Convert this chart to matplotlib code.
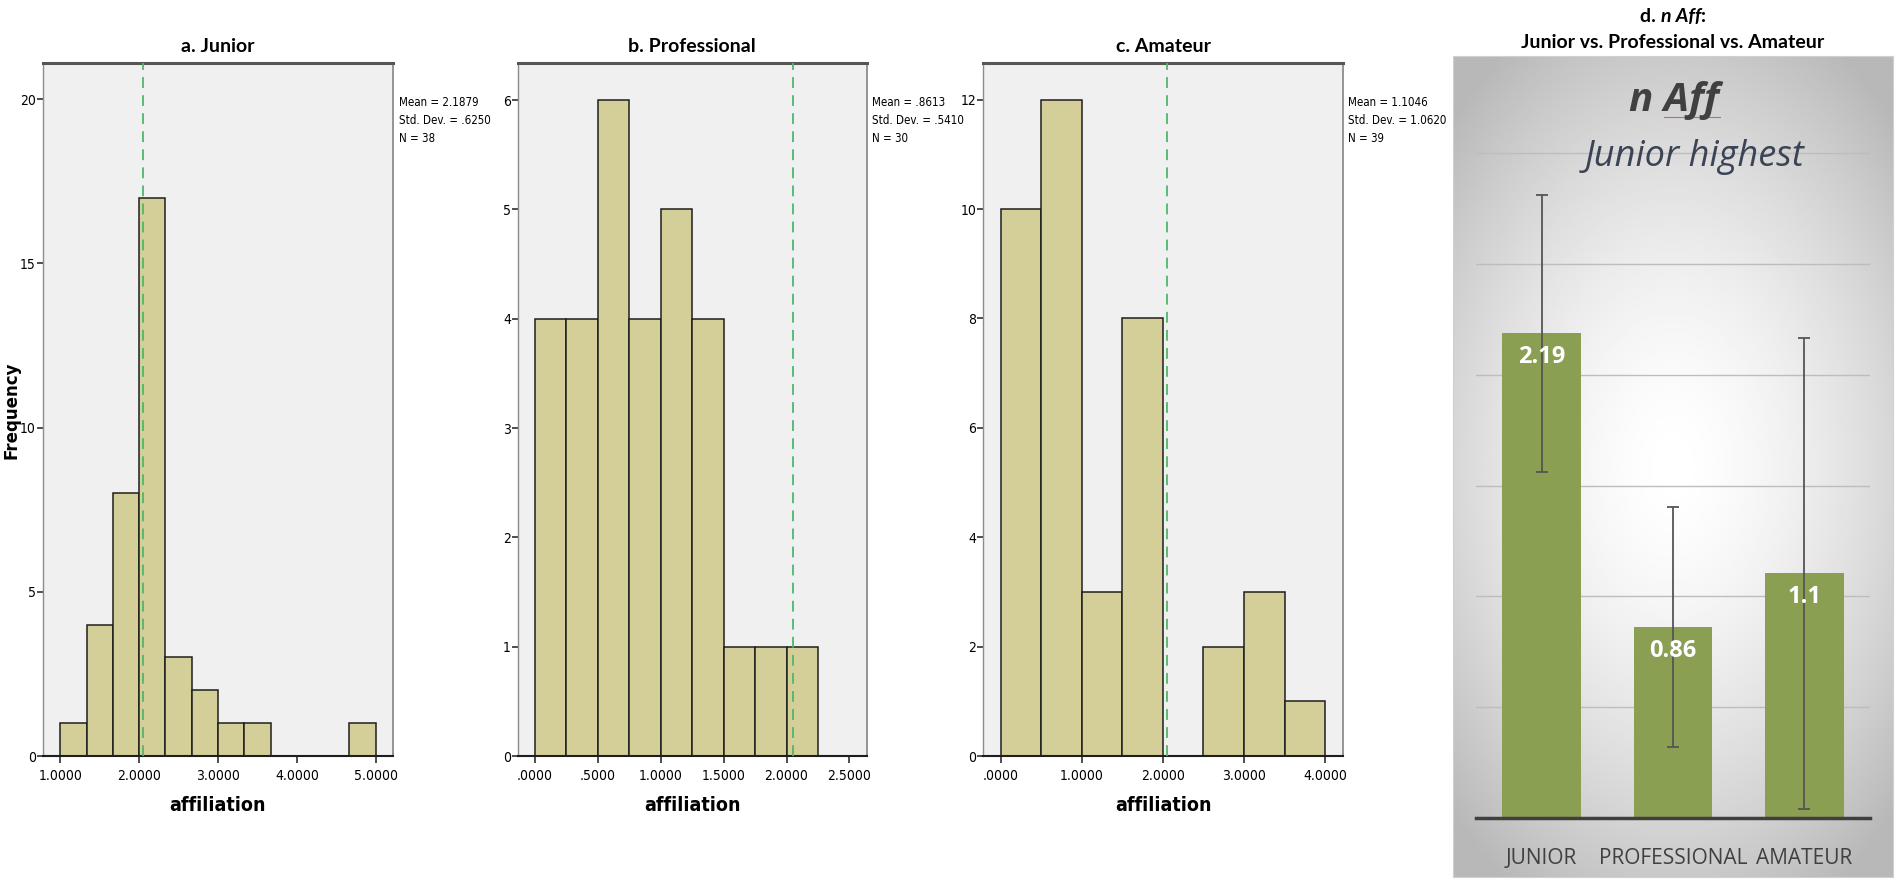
import matplotlib.pyplot as plt
import numpy as np
from matplotlib.lines import Line2D
from matplotlib import font_manager

junior_left = [1.0, 1.3333, 1.6667, 2.0, 2.3333, 2.6667, 3.0, 3.3333, 3.6667, 4.0, 4.3333, 4.6667]
junior_counts = [1, 4, 8, 17, 3, 2, 1, 1, 0, 0, 0, 1]
junior_width = 0.3333

pro_left = [0.0, 0.25, 0.5, 0.75, 1.0, 1.25, 1.5, 1.75, 2.0]
pro_counts = [4, 4, 6, 4, 5, 4, 1, 1, 1]
pro_width = 0.25

ama_left = [0.0, 0.5, 1.0, 1.5, 2.0, 2.5, 3.0, 3.5]
ama_counts = [10, 12, 3, 8, 0, 2, 3, 1]
ama_width = 0.5

ref_line = 2.05  # green dashed line, same place in all three histograms

junior_stats = "Mean = 2.1879\nStd. Dev. = .6250\nN = 38"
pro_stats = "Mean = .8613\nStd. Dev. = .5410\nN = 30"
ama_stats = "Mean = 1.1046\nStd. Dev. = 1.0620\nN = 39"

junior_xticks = [1, 2, 3, 4, 5]
pro_xticks = [0, 0.5, 1.0, 1.5, 2.0, 2.5]
ama_xticks = [0, 1, 2, 3, 4]
junior_yticks = [0, 5, 10, 15, 20]
pro_yticks = [0, 1, 2, 3, 4, 5, 6]
ama_yticks = [0, 2, 4, 6, 8, 10, 12]

# panel d
groups = ["JUNIOR", "PROFESSIONAL", "AMATEUR"]
group_means = [2.1879, 0.8613, 1.1046]
group_sd = [0.6250, 0.5410, 1.0620]
mean_labels = ["2.19", "0.86", "1.1"]

# narrow font for the SPSS bits, if there is one
installed = font_manager.fontManager.ttflist
names = {f.name for f in installed}
if 'Liberation Sans Narrow' in names:
    NARROW = dict(family='Liberation Sans Narrow')
    small = 10.5
elif any(f.name == 'DejaVu Sans' and f.stretch == 'condensed' for f in installed):
    NARROW = dict(family='DejaVu Sans', fontstretch='condensed')
    small = 8.3
else:
    NARROW = dict(family='Liberation Sans')
    small = 8.3
TITLE = ['Lato', 'DejaVu Sans']
SEGOE = ['Open Sans', 'DejaVu Sans']

W, H = 1902, 888
fig = plt.figure(figsize=(W / 100, H / 100), dpi=100)
fig.patch.set_facecolor('white')


def fmt_tick(v):
    s = f"{v:.4f}"
    if s.startswith("0."):
        s = s[1:]
    return s


def hist_panel(rect, left, counts, width, xlim, ylim, xticks, yticks, title, stats):
    ax = fig.add_axes(rect)
    ax.set_facecolor('#f0f0f0')
    ax.bar(left, counts, width=width, align='edge', color='#d4cf98',
           edgecolor='#1e1e1e', linewidth=1.1, zorder=2)
    ax.axvline(ref_line, color='#4cb86a', lw=1.3, ls=(0, (6, 4)), zorder=3)
    ax.set_xlim(*xlim)
    ax.set_ylim(*ylim)
    ax.set_xticks(xticks)
    ax.set_xticklabels([fmt_tick(v) for v in xticks], fontsize=10, **NARROW)
    ax.set_yticks(yticks)
    ax.set_yticklabels([str(v) for v in yticks], fontsize=10, **NARROW)
    ax.tick_params(axis='x', length=5, width=1.1, pad=4, color='#1e1e1e')
    ax.tick_params(axis='y', length=4, width=1.1, pad=1, color='#1e1e1e')
    ax.spines['top'].set_color('#555555')
    ax.spines['top'].set_linewidth(2.2)
    ax.spines['right'].set_color('#8c8c8c')
    ax.spines['right'].set_linewidth(1.3)
    ax.spines['left'].set_color('#8c8c8c')
    ax.spines['left'].set_linewidth(1.0)
    ax.spines['bottom'].set_color('#1e1e1e')
    ax.spines['bottom'].set_linewidth(1.5)
    ax.set_title(title, family=TITLE, fontweight='bold', fontsize=14, pad=8)
    ax.set_xlabel('affiliation', fontweight='bold', fontsize=14, labelpad=10, **NARROW)
    ax.annotate(stats, xy=(1, 0.953), xycoords='axes fraction', xytext=(4, 0),
                textcoords='offset points', va='top', ha='left',
                fontsize=small, linespacing=1.5, **NARROW)
    return ax


bot, top = 1 - 756 / H, 1 - 63 / H
hist_panel([43 / W, bot, 350 / W, top - bot], junior_left, junior_counts, junior_width,
           (0.78, 5.22), (0, 21.1), junior_xticks, junior_yticks, 'a. Junior', junior_stats)
hist_panel([517.7 / W, bot, 349 / W, top - bot], pro_left, pro_counts, pro_width,
           (-0.135, 2.637), (0, 6.34), pro_xticks, pro_yticks, 'b. Professional', pro_stats)
hist_panel([983.3 / W, bot, 359.4 / W, top - bot], ama_left, ama_counts, ama_width,
           (-0.215, 4.217), (0, 12.67), ama_xticks, ama_yticks, 'c. Amateur', ama_stats)

fig.text(12 / W, 1 - 410 / H, 'Frequency', rotation=90, ha='center', va='center',
         fontsize=12, fontweight='bold', family='DejaVu Sans')

# ---- panel d: gradient box
bg = fig.add_axes([1453 / W, 1 - 877 / H, 440 / W, 821 / H])
yy, xx = np.mgrid[0:1:400j, 0:1:220j]
r = np.sqrt(0.7 * ((xx - 0.5) / 0.5) ** 2 + ((yy - 0.5) / 0.5) ** 2)
t = np.clip(r / 1.2, 0, 1) ** 1.6
bg.imshow(1 - 0.28 * t, cmap='gray', vmin=0, vmax=1, extent=[0, 1, 0, 1], aspect='auto')
bg.set_xticks([])
bg.set_yticks([])
for s in bg.spines.values():
    s.set_color('#d0d0d0')

axd = fig.add_axes([1476 / W, 1 - 818 / H, 394 / W, 762 / H])
axd.patch.set_alpha(0)
x = np.arange(len(groups))
axd.bar(x, group_means, width=0.6, color='#8b9f53', zorder=3)
axd.errorbar(x, group_means, yerr=group_sd, fmt='none', ecolor='#555555',
             elinewidth=1.3, capsize=4, capthick=1.3, zorder=4)
for xi, m, lab in zip(x, group_means, mean_labels):
    axd.text(xi, m - 0.108, lab, ha='center', va='center', color='white',
             fontsize=17, fontweight='bold', family=SEGOE, zorder=5)
axd.set_xlim(-0.5, 2.5)
axd.set_ylim(0, 3.44)
axd.set_yticks([0.5, 1.0, 1.5, 2.0, 2.5, 3.0])
axd.yaxis.grid(True, color='#bdbdbd', lw=1.0)
axd.set_axisbelow(True)
axd.tick_params(left=False, labelleft=False, bottom=False, pad=18)
axd.set_xticks(x)
axd.set_xticklabels(groups, fontsize=15, color='#404040', family=SEGOE)
axd.axhline(0, color='#3f3f3f', lw=2.5, zorder=6, clip_on=False)
for s in axd.spines.values():
    s.set_visible(False)

fig.text(1674 / W, 1 - 100 / H, 'n Aff', ha='center', va='center', fontsize=29,
         fontweight='bold', style='italic', color='#404040', family=SEGOE)
fig.add_artist(Line2D([1664 / W, 1720 / W], [1 - 117 / H, 1 - 117 / H],
                      color='#e06060', lw=0.8))
fig.text(1695 / W, 1 - 157 / H, 'Junior highest', ha='center', va='center', fontsize=26,
         style='italic', color='#3a4454', family=SEGOE)

# two-line title of panel d, first line mixes bold and bold italic
fig.text(1673 / W, 1 - 42 / H, 'Junior vs. Professional vs. Amateur', ha='center',
         va='center', fontsize=14, fontweight='bold', family=TITLE)
rend = fig.canvas.get_renderer()
parts = [('d. ', 'normal'), ('n Aff', 'italic'), (':', 'normal')]
objs = []
for s, st in parts:
    objs.append(fig.text(0, 1 - 16 / H, s, ha='left', va='center', fontsize=14,
                         fontweight='bold', style=st, family=TITLE))
widths = [o.get_window_extent(rend).width for o in objs]
x0 = 1673 - sum(widths) / 2
for o, w in zip(objs, widths):
    o.set_x(x0 / W)
    x0 += w

fig.savefig('out.png', dpi=100)
